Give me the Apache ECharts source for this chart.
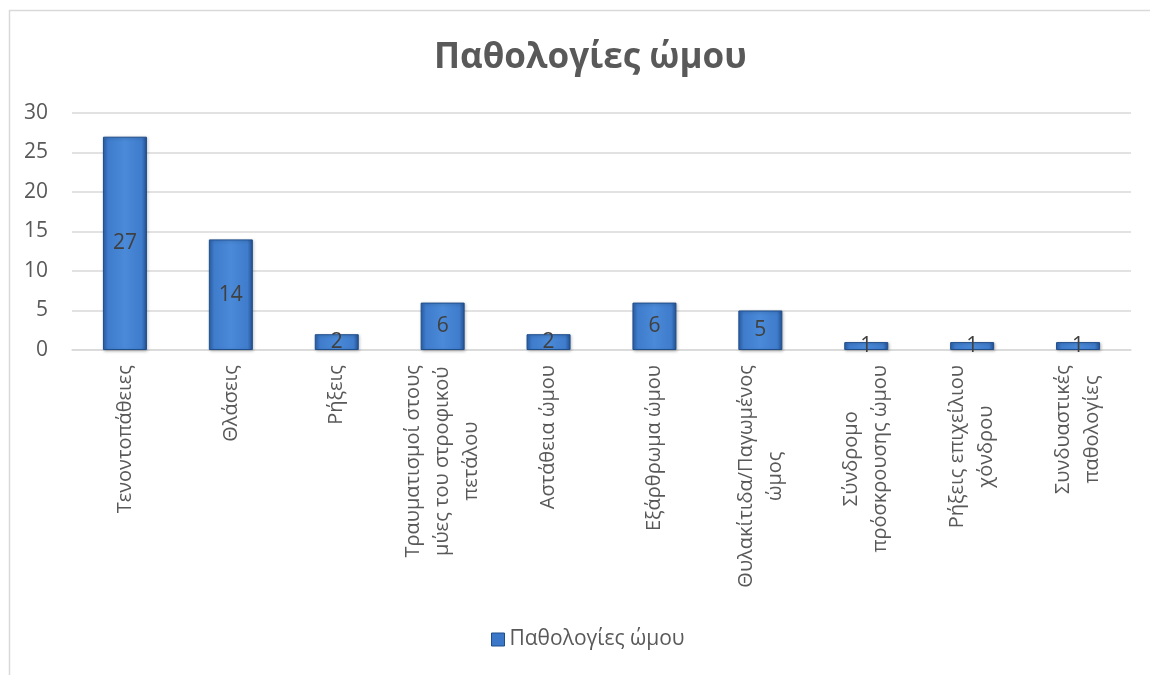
<!DOCTYPE html>
<html>
<head>
<meta charset="utf-8">
<script src="https://cdn.jsdelivr.net/npm/echarts@6/dist/echarts.min.js"></script>
<style>html,body{margin:0;padding:0;background:#fff;}#c{width:1150px;height:675px;}</style>
</head>
<body>
<div id="c"></div>
<script>
const titleText = 'Παθολογίες ώμου';
const seriesName = 'Παθολογίες ώμου';
const categories = [
  'Τενοντοπάθειες',
  'Θλάσεις',
  'Ρήξεις',
  'Τραυματισμοί στους\nμύες του στροφικού\nπετάλου',
  'Αστάθεια ώμου',
  'Εξάρθρωμα ώμου',
  'Θυλακίτιδα/Παγωμένος\nώμος',
  'Σύνδρομο\nπρόσκρουσης ώμου',
  'Ρήξεις επιχείλιου\nχόνδρου',
  'Συνδυαστικές\nπαθολογίες'
];
const values = [27, 14, 2, 6, 2, 6, 5, 1, 1, 1];
const yTicks = {min: 0, max: 30, interval: 5};

const FONT = '"Open Sans", "Noto Sans", sans-serif';
const chart = echarts.init(document.getElementById('c'));
const barColor = {
  type: 'linear', x: 0, y: 0, x2: 1, y2: 0,
  colorStops: [
    {offset: 0, color: '#2d63ad'},
    {offset: 0.12, color: '#3f7ccc'},
    {offset: 0.5, color: '#4a8ad8'},
    {offset: 0.88, color: '#3f7ccc'},
    {offset: 1, color: '#24508f'}
  ]
};
chart.setOption({
  backgroundColor: '#fff',
  animation: false,
  title: {
    text: titleText, left: 429, top: 36,
    textStyle: {fontFamily: FONT, fontSize: 35, fontWeight: 'bold', color: '#595959'}
  },
  graphic: [{
    type: 'rect', left: 7, top: 8, silent: true,
    shape: {width: 1200, height: 700},
    style: {fill: 'none', stroke: '#d9d9d9', lineWidth: 1.5}
  }],
  legend: {
    bottom: 20, left: 486,
    itemWidth: 13, itemHeight: 13, itemGap: 5,
    textStyle: {fontFamily: FONT, fontSize: 21, color: '#595959'},
    data: [{name: seriesName, icon: 'rect', itemStyle: {color: '#3a77c8', borderColor: '#1f4e8c', borderWidth: 1}}]
  },
  grid: {left: 72, right: 19, top: 113, bottom: 325, containLabel: false},
  xAxis: {
    type: 'category', data: categories,
    axisLine: {lineStyle: {color: '#d9d9d9', width: 1.5}},
    axisTick: {show: false},
    axisLabel: {
      interval: 0, rotate: 90, margin: 15,
      color: '#595959', fontFamily: FONT, fontSize: 20, lineHeight: 29,
      formatter: function (v) { return v.split('\n').map(function (l) { return '{c|' + l + '}'; }).join('\n'); },
      rich: {c: {align: 'center', fontFamily: FONT, fontSize: 20, color: '#595959', lineHeight: 29}}
    }
  },
  yAxis: {
    type: 'value', min: yTicks.min, max: yTicks.max, interval: yTicks.interval,
    axisLine: {show: false}, axisTick: {show: false},
    axisLabel: {margin: 24, color: '#595959', fontFamily: FONT, fontSize: 21},
    splitLine: {lineStyle: {color: '#d9d9d9', width: 1.5}}
  },
  series: [{
    name: seriesName, type: 'bar', data: values, barWidth: 44,
    itemStyle: {color: barColor, borderColor: '#1f4e8c', borderWidth: 1, shadowColor: 'rgba(0,0,0,0.25)', shadowBlur: 3, shadowOffsetX: 1, shadowOffsetY: 1},
    label: {show: true, position: 'inside', color: '#404040', fontFamily: FONT, fontSize: 21}
  }]
});
</script>
</body>
</html>
